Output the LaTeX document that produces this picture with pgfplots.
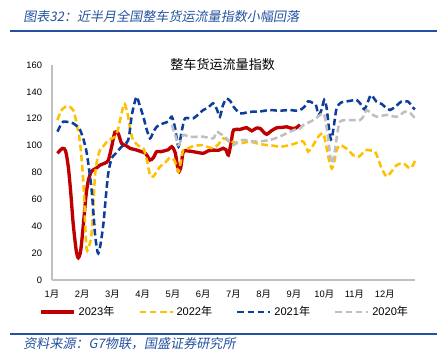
\documentclass[border=0pt]{standalone}
\usepackage{pgfplots}
\pgfplotsset{compat=1.18}
\usepackage{fontspec}
\setmainfont{Liberation Sans}
\newfontfamily\cjk{Noto Sans CJK SC}
\newfontfamily\cjkit{Noto Sans CJK SC}[FakeSlant=0.18]
\definecolor{hdrblue}{RGB}{36,82,160}
\definecolor{c23}{RGB}{192,0,0}
\definecolor{c22}{RGB}{255,192,0}
\definecolor{c21}{RGB}{14,62,155}
\definecolor{c20}{RGB}{191,191,191}
\definecolor{axgray}{RGB}{191,191,191}
\newcommand\yue{{\cjk 月}}
\newcommand\nian{{\cjk 年}}
\begin{document}
\begin{tikzpicture}
\path[use as bounding box] (0,0) rectangle (333pt,-270.75pt);
\node[anchor=west,text=hdrblue,font=\fontsize{9.8pt}{11pt}\selectfont\cjkit] at (14pt,-12.5pt) {图表32：近半月全国整车货运流量指数小幅回落};
\draw[hdrblue,line width=1.5pt] (7.5pt,-23.25pt) -- (327.75pt,-23.25pt);
\draw[hdrblue,line width=1.2pt] (7.5pt,-250.5pt) -- (327.75pt,-250.5pt);
\node[anchor=west,text=hdrblue,font=\fontsize{9.8pt}{11pt}\selectfont\cjkit] at (14pt,-258pt) {资料来源：G7物联，国盛证券研究所};
\node[font=\fontsize{9.8pt}{11pt}\selectfont\cjk] at (167pt,-48.75pt) {整车货运流量指数};
\begin{axis}[
  at={(39pt,-210pt)}, anchor=south west,
  scale only axis, width=272.25pt, height=161.25pt,
  xmin=0, xmax=12, ymin=0, ymax=160,
  axis x line=bottom, axis y line=left,
  axis line style={axgray,line width=0.8pt,-},
  xtick={0,1,...,11},
  xticklabels={1\yue,2\yue,3\yue,4\yue,5\yue,6\yue,7\yue,8\yue,9\yue,10\yue,11\yue,12\yue},
  ytick={0,20,...,160},
  major tick length=0pt,
  tick label style={font=\fontsize{7pt}{8pt}\selectfont},
  /pgf/number format/assume math mode=true,
  yticklabel style={xshift=-4pt},
  xticklabel style={yshift=-4pt},
  clip=false,
  legend columns=4,
  legend style={draw=none, fill=none, at={(axis description cs:0.477,-0.149)}, anchor=center,
    font=\fontsize{8.3pt}{9pt}\selectfont,
    /tikz/every even column/.append style={column sep=16pt}},
  legend image code/.code={\draw[#1] (0cm,0cm) -- (0.87cm,0cm);},
  every axis plot/.append style={smooth, tension=0.45},
]
\addplot[c23, line width=2.5pt] coordinates {
(0.18,94.3)(0.35,98)(0.45,96)(0.54,84)(0.62,65)(0.70,42)(0.80,22)(0.87,16.5)(0.95,22)(1.04,42)(1.12,62)(1.2,74)(1.31,81)(1.45,83)(1.59,85.5)(1.75,87)(1.86,89)(1.97,99)(2.08,110)(2.19,109)(2.3,101.7)(2.45,100)(2.58,98)(2.75,97)(2.96,95.5)(3.1,94)(3.24,89.3)(3.35,91)(3.46,95.5)(3.6,95.5)(3.74,96.3)(3.85,97)(3.96,99.2)(4.07,95)(4.18,81)(4.26,84)(4.34,95.5)(4.5,96)(4.67,95.5)(5.0,94.3)(5.15,96)(5.33,96.7)(5.5,96.5)(5.66,98)(5.75,97)(5.83,93)(5.92,102)(6.0,111.6)(6.2,112)(6.44,113.3)(6.6,111)(6.75,113)(6.88,112.8)(7.0,110)(7.1,108.4)(7.25,111)(7.43,113.3)(7.6,113.5)(7.76,114)(7.9,113)(8.05,113)(8.2,115.5)
};
\addlegendentry{2023\nian}
\addplot[c22, line width=1.9pt, dash pattern=on 5pt off 2.6pt] coordinates {
(0.18,119)(0.3,126)(0.45,129)(0.54,129.5)(0.7,126.5)(0.8,118)(0.93,101.7)(1.04,72)(1.1,40)(1.15,22.3)(1.22,25)(1.31,35)(1.42,77)(1.5,90)(1.59,96.7)(1.75,101)(1.86,104)(2.08,106.6)(2.18,112)(2.25,119)(2.38,131)(2.45,128)(2.52,121.5)(2.6,110)(2.69,104)(2.85,100)(3.02,98)(3.15,88)(3.24,78)(3.35,77)(3.57,84.3)(3.75,87.5)(3.9,91)(4.05,89)(4.18,80.6)(4.26,88)(4.34,96.7)(4.5,98)(4.67,99.7)(5.0,100.4)(5.15,99)(5.33,98)(5.5,101)(5.66,105.4)(5.8,104)(5.94,103)(6.21,101.7)(6.55,103)(6.8,101.5)(7.1,100.4)(7.3,100)(7.54,99.2)(7.87,100.4)(8.05,101.7)(8.2,103)(8.31,103)(8.4,99)(8.47,95.5)(8.6,99)(8.8,106.6)(8.97,109)(9.08,98)(9.17,88)(9.25,83)(9.33,88)(9.41,96.7)(9.52,100.4)(9.65,99)(9.8,96.7)(9.95,93)(10.13,91.7)(10.25,94)(10.35,96.7)(10.5,96.5)(10.68,95.5)(10.8,89)(10.9,83)(11.06,77)(11.2,80)(11.4,85.6)(11.61,86.8)(11.72,85)(11.83,83)(11.95,86)(12.0,89)
};
\addlegendentry{2022\nian}
\addplot[c21, line width=1.9pt, dash pattern=on 5pt off 2.6pt] coordinates {
(0.18,110.4)(0.28,115)(0.37,117.8)(0.55,117.5)(0.7,116.6)(0.8,115)(0.93,111.6)(1.05,104)(1.15,94.3)(1.24,80)(1.31,67)(1.37,50)(1.42,34.7)(1.48,24)(1.53,19.8)(1.6,26)(1.7,42)(1.78,62)(1.86,79.4)(1.97,90.5)(2.1,94)(2.3,99.2)(2.52,104.2)(2.63,121.5)(2.72,131)(2.8,136.4)(2.9,130)(3.02,121.5)(3.13,112)(3.24,105.4)(3.35,110)(3.46,114)(3.68,116.6)(3.85,118)(3.96,121.5)(4.07,113)(4.18,99.2)(4.3,112)(4.4,120.3)(4.67,120.3)(5.0,126.5)(5.15,128)(5.33,131.5)(5.45,127)(5.55,121.5)(5.65,130)(5.77,135)(5.9,133)(6.0,129)(6.21,124)(6.4,124.5)(6.65,125.3)(6.9,125.5)(7.2,126.5)(7.5,126)(7.87,126.5)(8.05,126)(8.2,126.5)(8.35,129)(8.47,133)(8.6,132)(8.72,130.5)(8.81,123)(8.9,126)(9.0,134)(9.08,128)(9.13,117.8)(9.2,106)(9.25,105.4)(9.32,115)(9.41,128)(9.55,132)(9.69,132.7)(9.9,133.5)(10.07,134)(10.2,131)(10.33,127)(10.45,133)(10.55,137.6)(10.73,132.7)(10.9,131)(11.0,129)(11.17,126.5)(11.35,129)(11.55,132.7)(11.78,132.7)(11.9,129)(12.0,127)
};
\addlegendentry{2021\nian}
\addplot[c20, line width=1.9pt, dash pattern=on 5pt off 2.6pt] coordinates {
(3.96,115.3)(4.07,108)(4.18,100.4)(4.26,104)(4.34,108)(4.56,106.6)(5.0,106.6)(5.33,105.4)(5.44,110.4)(5.55,109)(5.72,106.6)(5.85,103)(6.0,100.4)(6.15,103)(6.32,104.2)(6.55,103.5)(6.77,103)(7.0,103.5)(7.2,104.2)(7.45,106)(7.65,108)(7.87,110.4)(8.05,112)(8.2,112.8)(8.31,115.3)(8.64,119)(8.97,124)(9.05,117)(9.13,105.4)(9.2,92)(9.25,86.8)(9.32,92)(9.41,105.4)(9.52,117.8)(9.85,119)(10.18,119)(10.3,122)(10.4,126.5)(10.55,124)(10.73,121.5)(11.06,122.8)(11.4,121.5)(11.67,125.3)(11.85,124)(12.0,120.3)
};
\addlegendentry{2020\nian}
\end{axis}
\end{tikzpicture}
\end{document}
